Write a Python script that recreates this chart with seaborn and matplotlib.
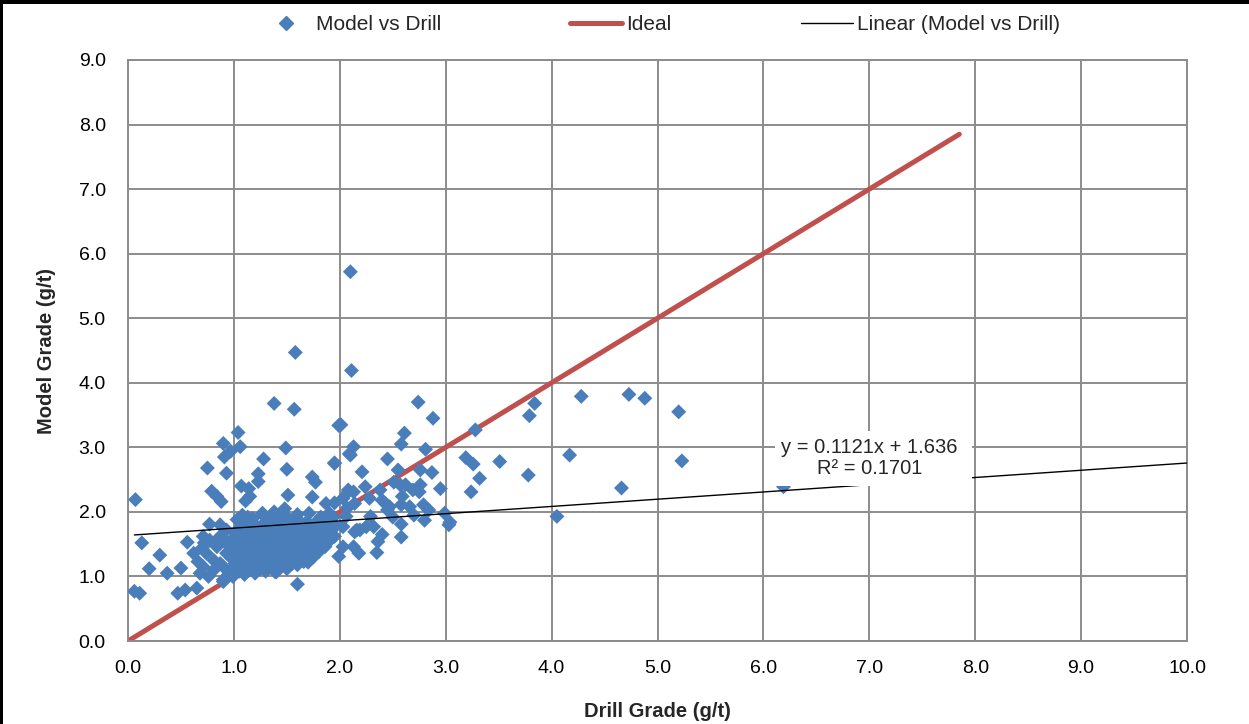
import numpy as np
import pandas as pd
import matplotlib
matplotlib.use("Agg")
import matplotlib.pyplot as plt
from matplotlib.lines import Line2D
from matplotlib.patches import Rectangle
import seaborn as sns

# ---- data -------------------------------------------------------------
# Sparse points outside the main cloud
outlier_drill = [0.07, 0.06, 0.11, 0.13, 0.20, 0.30, 0.37, 0.47, 0.50, 0.54, 0.65,
                 0.90, 1.60, 1.38, 1.57, 1.58, 2.10, 2.11, 2.01, 1.04, 0.90, 1.06,
                 0.97, 0.91, 1.49, 1.28, 0.75, 0.93, 1.50, 1.23, 1.23, 1.95, 1.99,
                 1.74, 1.77, 1.07, 1.14, 0.79, 0.84, 0.88, 1.15, 1.11, 1.51, 1.74,
                 1.95, 1.87, 0.77, 0.87, 0.56, 0.71, 0.77, 0.62, 0.90]
outlier_model = [2.19, 0.77, 0.74, 1.52, 1.12, 1.33, 1.05, 0.74, 1.13, 0.79, 0.82,
                 0.92, 0.88, 3.68, 3.59, 4.47, 5.72, 4.19, 3.35, 3.23, 3.06, 3.01,
                 2.94, 2.85, 2.99, 2.82, 2.68, 2.60, 2.66, 2.59, 2.47, 2.75, 3.34,
                 2.54, 2.46, 2.40, 2.36, 2.32, 2.24, 2.16, 2.24, 2.17, 2.26, 2.23,
                 2.14, 2.13, 1.81, 1.80, 1.53, 1.62, 1.56, 1.36, 1.59]

# Points to the right of the main cloud
spread_drill = [2.74, 2.88, 2.00, 2.61, 2.58, 2.81, 2.13, 2.09, 1.95, 3.28, 3.84,
                3.79, 2.45, 2.55, 2.76, 2.87, 2.21, 3.19, 3.26, 3.51, 3.32, 3.78,
                3.24, 2.95, 2.51, 2.57, 2.62, 2.38, 2.28, 2.24, 2.08, 2.03, 2.76,
                2.75, 2.69, 2.59, 2.58, 2.43, 2.40, 2.47, 2.66, 2.79, 2.84, 2.99,
                3.03, 3.04, 2.80, 2.58, 2.58, 2.40, 2.36, 2.35, 2.32, 2.25, 2.19,
                2.14, 2.03, 2.13, 2.18, 1.99, 2.06, 2.03, 2.29, 2.45, 2.10, 2.13,
                2.16, 1.78, 1.86, 1.77, 1.66, 1.39, 2.08, 2.14, 2.07, 4.05, 4.28,
                4.73, 4.88, 5.20, 4.17, 5.23, 4.66, 6.19, 2.50, 2.70]
spread_model = [3.70, 3.45, 3.34, 3.22, 3.05, 2.97, 3.01, 2.90, 2.76, 3.27, 3.68,
                3.49, 2.82, 2.65, 2.65, 2.61, 2.62, 2.84, 2.74, 2.78, 2.52, 2.57,
                2.31, 2.36, 2.46, 2.42, 2.42, 2.34, 2.21, 2.39, 2.34, 2.21, 2.42,
                2.31, 2.34, 2.24, 2.11, 2.13, 2.18, 2.08, 2.08, 2.11, 2.03, 1.98,
                1.80, 1.84, 1.87, 1.81, 1.61, 1.65, 1.54, 1.37, 1.77, 1.77, 1.72,
                1.69, 1.46, 1.46, 1.36, 1.31, 1.93, 1.77, 1.93, 2.03, 2.88, 2.31,
                1.72, 1.46, 1.46, 1.59, 1.23, 1.07, 2.31, 2.13, 2.06, 1.93, 3.79,
                3.82, 3.76, 3.55, 2.88, 2.79, 2.37, 2.39, 1.92, 1.95]

# Dense core of the cloud
core_drill = [0.66, 0.71, 0.68, 0.76, 0.81, 0.87, 0.93, 0.96, 0.90, 0.84, 0.74,
              0.70, 0.77, 0.87, 0.72, 0.81, 0.90, 0.96, 0.90, 0.99,
              1.00, 0.99, 1.01, 0.98, 1.02, 1.00, 0.97, 1.01,
              1.05, 1.06, 1.04, 1.05, 1.07, 1.04, 1.06,
              1.10, 1.11, 1.09, 1.10, 1.12, 1.09, 1.11, 1.10,
              1.15, 1.16, 1.14, 1.15, 1.17, 1.14, 1.16,
              1.20, 1.21, 1.19, 1.20, 1.22, 1.19, 1.21, 1.20, 1.18,
              1.25, 1.26, 1.24, 1.25, 1.27, 1.24, 1.26,
              1.30, 1.31, 1.29, 1.30, 1.32, 1.29, 1.31, 1.30, 1.28,
              1.35, 1.36, 1.34, 1.35, 1.37, 1.34, 1.36, 1.35,
              1.40, 1.41, 1.39, 1.40, 1.42, 1.39, 1.41, 1.40, 1.38,
              1.45, 1.46, 1.44, 1.45, 1.47, 1.44, 1.46,
              1.50, 1.51, 1.49, 1.50, 1.52, 1.49, 1.51, 1.50, 1.48,
              1.55, 1.56, 1.54, 1.55, 1.57, 1.54, 1.56,
              1.60, 1.61, 1.59, 1.60, 1.62, 1.59, 1.61, 1.60,
              1.65, 1.66, 1.64, 1.65, 1.67, 1.64,
              1.70, 1.71, 1.69, 1.70, 1.72, 1.69, 1.71,
              1.75, 1.76, 1.74, 1.75, 1.77,
              1.80, 1.81, 1.79, 1.80, 1.82,
              1.85, 1.86, 1.84, 1.85,
              1.90, 1.91, 1.89, 1.90,
              1.95, 1.96, 1.94,
              1.03, 1.08, 0.93, 1.13, 1.27, 1.43]
core_model = [1.23, 1.15, 1.05, 1.00, 1.10, 1.20, 1.36, 1.46, 1.56, 1.46, 1.36,
              1.44, 1.56, 1.62, 1.52, 1.25, 1.15, 1.05, 0.95, 1.00,
              1.02, 1.12, 1.20, 1.28, 1.35, 1.45, 1.55, 1.68,
              1.08, 1.18, 1.30, 1.40, 1.50, 1.62, 1.75,
              1.03, 1.14, 1.24, 1.33, 1.47, 1.58, 1.70, 1.85,
              1.10, 1.22, 1.32, 1.42, 1.52, 1.63, 1.78,
              1.05, 1.16, 1.27, 1.37, 1.46, 1.57, 1.68, 1.80, 1.90,
              1.12, 1.24, 1.34, 1.44, 1.55, 1.66, 1.76,
              1.08, 1.18, 1.30, 1.40, 1.50, 1.60, 1.72, 1.85, 1.95,
              1.15, 1.26, 1.36, 1.47, 1.57, 1.67, 1.78, 1.90,
              1.07, 1.20, 1.32, 1.42, 1.53, 1.63, 1.74, 1.86, 2.00,
              1.16, 1.28, 1.38, 1.50, 1.60, 1.70, 1.82,
              1.12, 1.24, 1.35, 1.45, 1.55, 1.66, 1.78, 1.92, 2.05,
              1.20, 1.32, 1.43, 1.53, 1.63, 1.74, 1.86,
              1.18, 1.30, 1.40, 1.50, 1.60, 1.72, 1.84, 1.96,
              1.25, 1.38, 1.48, 1.58, 1.70, 1.82,
              1.22, 1.35, 1.47, 1.60, 1.72, 1.85, 1.98,
              1.30, 1.45, 1.58, 1.70, 1.83,
              1.38, 1.52, 1.65, 1.78, 1.92,
              1.48, 1.62, 1.75, 1.88,
              1.55, 1.70, 1.85, 1.98,
              1.62, 1.78, 1.92,
              1.88, 1.95, 1.72, 1.92, 1.98, 1.95]

# Trendline reported on the chart
trend_slope = 0.1121
trend_intercept = 1.636
trend_r2 = 0.1701
trend_x = [0.06, 10.0]
ideal_x = [0.0, 7.85]

x_ticks = np.arange(0, 10.01, 1.0)
y_ticks = np.arange(0, 9.01, 1.0)

# ---- styling ----------------------------------------------------------
sns.set_theme(style="white")
plt.rcParams["font.family"] = ["Liberation Sans", "DejaVu Sans"]

BLUE = "#4A7EBB"
RED = "#C0504D"
GRID = "#8C8C8C"
FS_TICK = 14
FS_LABEL = 14.5

df = pd.DataFrame({
    "drill": outlier_drill + spread_drill + core_drill,
    "model": outlier_model + spread_model + core_model,
})
ideal_df = pd.DataFrame({"x": ideal_x, "y": ideal_x})
trend_df = pd.DataFrame({"x": trend_x,
                         "y": [trend_slope * v + trend_intercept for v in trend_x]})

fig = plt.figure(figsize=(12.49, 7.24), dpi=100)
ax = fig.add_axes([128 / 1249, 1 - 641 / 724, (1187 - 128) / 1249, (641 - 60) / 724])

# ideal 1:1 line sits beneath the points, the fitted trend above them
sns.lineplot(data=ideal_df, x="x", y="y", color=RED, linewidth=3.6, ax=ax,
             zorder=2.5, legend=False)
sns.scatterplot(data=df, x="drill", y="model", marker="D", s=58, color=BLUE,
                edgecolor="none", linewidth=0, ax=ax, zorder=3, legend=False)
sns.lineplot(data=trend_df, x="x", y="y", color="black", linewidth=1.0, ax=ax,
             zorder=5, legend=False)

ax.set_xlim(0, 10)
ax.set_ylim(0, 9)
ax.set_xticks(x_ticks)
ax.set_yticks(y_ticks)
ax.set_xticklabels([f"{v:.1f}" for v in x_ticks], fontsize=FS_TICK)
ax.set_yticklabels([f"{v:.1f}" for v in y_ticks], fontsize=FS_TICK)
ax.tick_params(axis="both", which="major", direction="out", length=6, width=1.3,
               color=GRID, labelcolor="black")
ax.tick_params(axis="x", pad=8)
ax.tick_params(axis="y", pad=10)
ax.grid(True, color=GRID, linewidth=1.4)
ax.set_axisbelow(True)
for sp in ax.spines.values():
    sp.set_color(GRID)
    sp.set_linewidth(1.4)

ax.set_xlabel("Drill Grade (g/t)", fontsize=FS_LABEL, fontweight="bold", labelpad=18)
ax.set_ylabel("Model Grade (g/t)", fontsize=FS_LABEL, fontweight="bold", labelpad=16)

# trendline equation box
ax.add_patch(Rectangle((6.11, 2.40), 1.86, 0.85, facecolor="white",
                       edgecolor="none", zorder=6))
ax.text(7.0, 2.99, f"y = {trend_slope}x + {trend_intercept}", ha="center",
        va="center", fontsize=FS_LABEL, zorder=7)
ax.text(7.0, 2.67, f"R² = {trend_r2}", ha="center", va="center",
        fontsize=FS_LABEL, zorder=7)

# legend above the plot
handles = [
    Line2D([], [], marker="D", color=BLUE, linestyle="none", markersize=7.5),
    Line2D([], [], color=RED, linewidth=3.6),
    Line2D([], [], color="black", linewidth=1.0),
]
fig.legend(handles, ["Model vs Drill", "Ideal", "Linear (Model vs Drill)"],
           loc="center", bbox_to_anchor=(660 / 1249, 1 - 25 / 724), ncol=3,
           frameon=False, fontsize=15, handlelength=2.5, handletextpad=0.2,
           columnspacing=6.2, borderpad=0)

# frame edges of the exported figure
fig.add_artist(Rectangle((0, 1 - 4 / 724), 1, 4 / 724, transform=fig.transFigure,
                         facecolor="black", edgecolor="none"))
fig.add_artist(Rectangle((0, 0), 3 / 1249, 1, transform=fig.transFigure,
                         facecolor="black", edgecolor="none"))

fig.savefig("out.png", dpi=100)
